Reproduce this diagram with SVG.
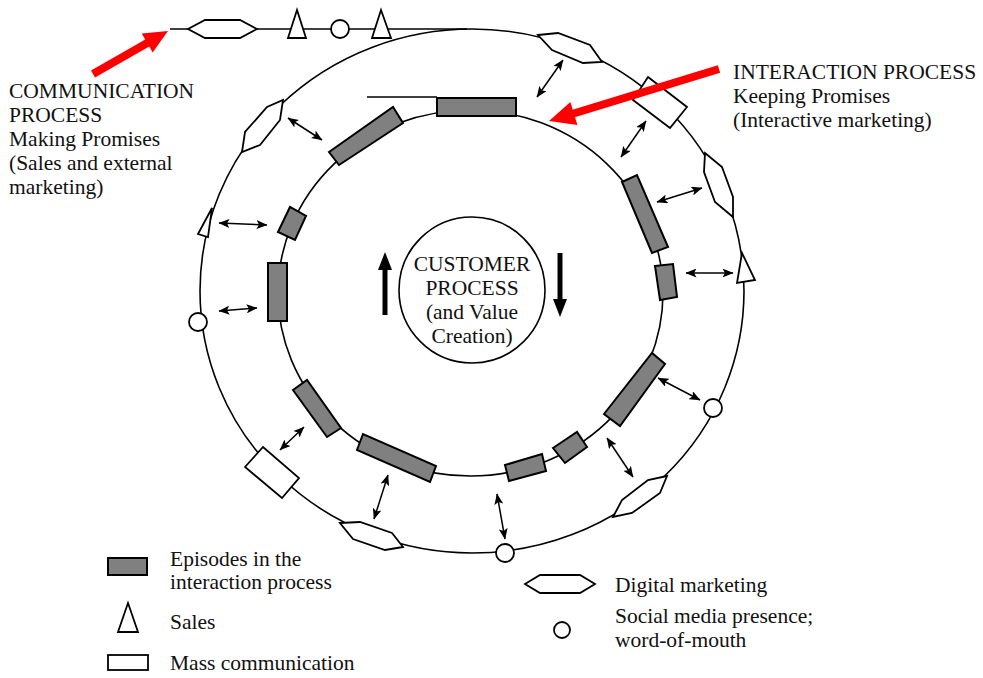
<svg xmlns="http://www.w3.org/2000/svg" width="983" height="678" viewBox="0 0 983 678">
<defs>
<style>
.ring{fill:none;stroke:#000;stroke-width:1.6}
.ep{fill:#808080;stroke:#000;stroke-width:2}
.w{fill:#fff;stroke:#000;stroke-width:1.8}
.ln{fill:none;stroke:#000;stroke-width:1.6}
.dbl{fill:none;stroke:#000;stroke-width:1.5;marker-start:url(#ah);marker-end:url(#ah)}
.red{stroke:#f00;stroke-width:8;fill:none}
.redh{fill:#f00}
text{font-family:"Liberation Serif","Times New Roman",serif;font-size:21.5px;fill:#111}
.c{text-anchor:middle}
</style>
<marker id="ah" viewBox="0 0 11 9" refX="10.5" refY="4.5" markerWidth="11" markerHeight="9" markerUnits="userSpaceOnUse" orient="auto-start-reverse">
<path d="M0,0 L11,4.5 L0,9 L2.5,4.5 z" fill="#000"/>
</marker>
</defs>
<rect width="983" height="678" fill="#fff"/>

<g id="rings">
<ellipse class="ring" cx="472" cy="291" rx="272" ry="262"/>
<ellipse class="ring" cx="470.5" cy="293" rx="192.5" ry="183"/>
<line class="ln" x1="170" y1="29" x2="467" y2="29"/>
<line class="ln" x1="367" y1="97" x2="437" y2="97"/>
</g>

<g id="top-line-items">
<polygon class="w" points="188,29 205,20 240,20 257,29 240,38 205,38"/>
<polygon class="w" points="297,10 288,38 306,38"/>
<circle class="w" cx="340" cy="29" r="9"/>
<polygon class="w" points="381,10 372,38 391,38"/>
</g>

<g id="outer-items">
<polygon class="w" points="538,35 558,33 590,45 602,62 583,63 552,50"/>
<polygon class="w" points="648,77 687,107 670,128 633,100"/>
<polygon class="w" points="705,153 722,167 733,197 733,217 715,202 704,172"/>
<polygon class="w" points="742,253 737,283 755,280"/>
<circle class="w" cx="713" cy="408" r="9"/>
<polygon class="w" points="667,476 648,480 622,500 613,517 632,513 660,493"/>
<circle class="w" cx="505" cy="553" r="9"/>
<polygon class="w" points="340,523 360,522 392,533 403,547 385,550 353,539"/>
<polygon class="w" points="245,467 263,447 299,478 282,498"/>
<circle class="w" cx="198" cy="322" r="9"/>
<polygon class="w" points="212,208 198,234 208,237"/>
<polygon class="w" points="283,100 280,120 260,145 242,152 245,132 267,107"/>
</g>

<g id="episodes">
<rect class="ep" x="437" y="98" width="79" height="18"/>
<polygon class="ep" points="329,152 393,107 403,123 339,165"/>
<polygon class="ep" points="278,232 290,207 306,216 295,240"/>
<rect class="ep" x="268" y="263" width="19" height="58"/>
<polygon class="ep" points="293,390 307,380 341,428 327,437"/>
<polygon class="ep" points="357,450 363,434 436,466 430,482"/>
<polygon class="ep" points="505,465 542,454 546,471 509,481"/>
<polygon class="ep" points="553,448 577,432 587,447 565,463"/>
<polygon class="ep" points="604,414 652,353 665,364 620,426"/>
<polygon class="ep" points="655,266 673,264 677,297 660,300"/>
<polygon class="ep" points="622,182 637,175 668,247 652,253"/>
</g>

<g id="connectors">
<line class="dbl" x1="537" y1="97" x2="563" y2="60"/>
<line class="dbl" x1="621" y1="157" x2="646" y2="121"/>
<line class="dbl" x1="657" y1="202" x2="702" y2="188"/>
<line class="dbl" x1="686" y1="273" x2="733" y2="273"/>
<line class="dbl" x1="658" y1="378" x2="700" y2="400"/>
<line class="dbl" x1="607" y1="438" x2="633" y2="477"/>
<line class="dbl" x1="497" y1="494" x2="505" y2="539"/>
<line class="dbl" x1="388" y1="475" x2="374" y2="519"/>
<line class="dbl" x1="304" y1="427" x2="280" y2="450"/>
<line class="dbl" x1="219" y1="311" x2="257" y2="308"/>
<line class="dbl" x1="219" y1="223" x2="267" y2="225"/>
<line class="dbl" x1="288" y1="118" x2="322" y2="140"/>
</g>

<g id="communication-arrow">
<line class="red" x1="93" y1="74" x2="149" y2="42"/>
<polygon class="redh" points="168,31 152.7,52.4 141.7,33.4"/>
</g>
<g id="interaction-arrow">
<line class="red" x1="719" y1="69" x2="572" y2="114"/>
<polygon class="redh" points="549,121 577.4,124.9 570.4,101.9"/>
</g>

<g id="communication-label">
<text x="9" y="98">COMMUNICATION</text>
<text x="9" y="122">PROCESS</text>
<text x="9" y="146">Making Promises</text>
<text x="9" y="170">(Sales and external</text>
<text x="9" y="194">marketing)</text>
</g>

<g id="interaction-label">
<text x="733" y="79">INTERACTION PROCESS</text>
<text x="733" y="103">Keeping Promises</text>
<text x="733" y="127">(Interactive marketing)</text>
</g>

<g id="customer-process">
<circle cx="472" cy="290" r="73" fill="none" stroke="#000" stroke-width="1.6"/>
<text class="c" x="472" y="271">CUSTOMER</text>
<text class="c" x="472" y="295">PROCESS</text>
<text class="c" x="472" y="319">(and Value</text>
<text class="c" x="472" y="343">Creation)</text>
<line x1="385" y1="315" x2="385" y2="268" stroke="#000" stroke-width="5"/>
<polygon points="385,252 378,270 392,270" fill="#000"/>
<line x1="560" y1="253" x2="560" y2="301" stroke="#000" stroke-width="5"/>
<polygon points="560,317 553,299 567,299" fill="#000"/>
</g>

<g id="legend">
<rect class="ep" x="108" y="558" width="39" height="17"/>
<text x="170" y="566">Episodes in the</text>
<text x="170" y="589">interaction process</text>
<polygon class="w" points="128,603 118,632 138,632"/>
<text x="170" y="629">Sales</text>
<rect class="w" x="108" y="655" width="40" height="15"/>
<text x="170" y="670">Mass communication</text>
<polygon class="w" points="525,584 540,575 580,575 595,584 580,593 540,593"/>
<text x="615" y="592">Digital marketing</text>
<circle class="w" cx="562" cy="630" r="8"/>
<text x="615" y="623">Social media presence;</text>
<text x="615" y="647">word-of-mouth</text>
</g>
</svg>
